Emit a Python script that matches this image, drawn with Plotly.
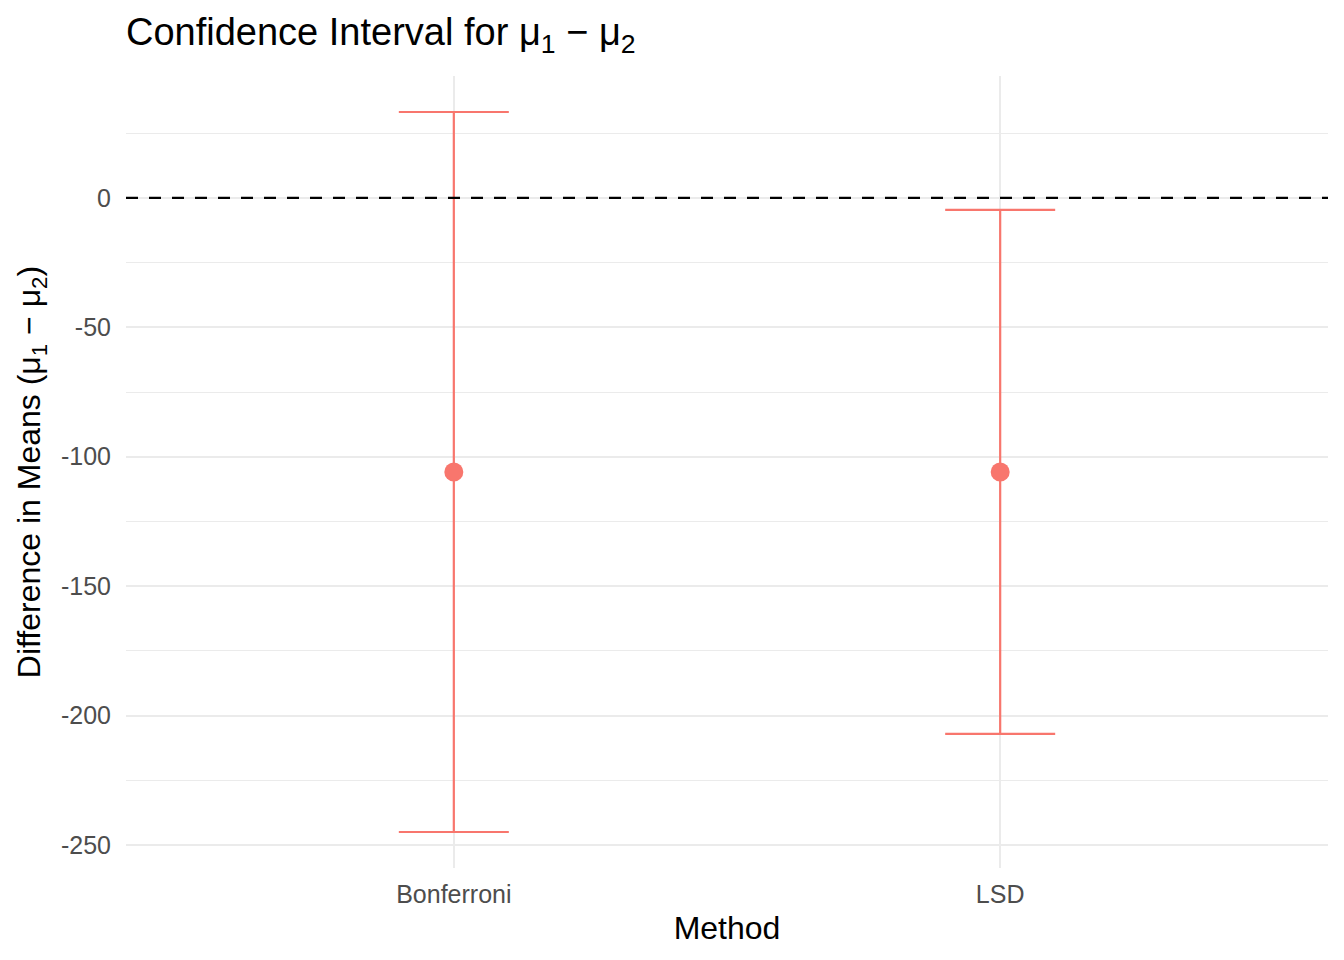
import plotly.graph_objects as go

methods = ["Bonferroni", "LSD"]
estimate = [-105.9, -105.9]
lower = [-245.0, -207.1]
upper = [33.2, -4.6]
y_ticks = [0, -50, -100, -150, -200, -250]
y_tick_labels = ["0", "-50", "-100", "-150", "-200", "-250"]

err_plus = [u - e for u, e in zip(upper, estimate)]
err_minus = [e - l for e, l in zip(estimate, lower)]

color = "#F8766D"
font_family = "Liberation Sans, Arial, sans-serif"

fig = go.Figure()
fig.add_trace(go.Scatter(
    x=methods, y=estimate, mode="markers",
    marker=dict(color=color, size=19),
    error_y=dict(type="data", symmetric=False, array=err_plus, arrayminus=err_minus,
                 color=color, thickness=2.2, width=55),
    showlegend=False,
))
fig.add_hline(y=0, line=dict(color="black", width=2.2, dash="12px,11px"))

fig.update_layout(
    width=1336, height=952,
    paper_bgcolor="white", plot_bgcolor="white",
    margin=dict(l=118, r=16, t=68, b=92),
    font=dict(family=font_family, color="black"),
    title=dict(text="Confidence Interval for μ<sub>1</sub> − μ<sub>2</sub>",
               x=0, xref="paper", xanchor="left",
               y=1 - 24 / 952, yref="container", yanchor="middle",
               font=dict(size=38, color="black")),
    xaxis=dict(
        range=[-0.6, 1.6], showgrid=True, gridcolor="#EBEBEB", gridwidth=2,
        zeroline=False, showline=False,
        tickfont=dict(size=25, color="#4D4D4D"),
        ticks="outside", ticklen=4, tickcolor="rgba(0,0,0,0)",
        title=dict(text="Method", font=dict(size=32, color="black"), standoff=9),
    ),
    yaxis=dict(
        range=[-258.9, 47.1], tickvals=y_ticks, ticktext=y_tick_labels,
        showgrid=True, gridcolor="#EBEBEB", gridwidth=2,
        minor=dict(dtick=25, tick0=25, showgrid=True, gridcolor="#EBEBEB", gridwidth=1),
        zeroline=False, showline=False,
        tickfont=dict(size=25, color="#4D4D4D"),
        ticks="outside", ticklen=9, tickcolor="rgba(0,0,0,0)",
        title=dict(text="Difference in Means (μ<sub>1</sub> − μ<sub>2</sub>)",
                   font=dict(size=32, color="black"), standoff=10),
    ),
)

fig.write_html("out.html")
